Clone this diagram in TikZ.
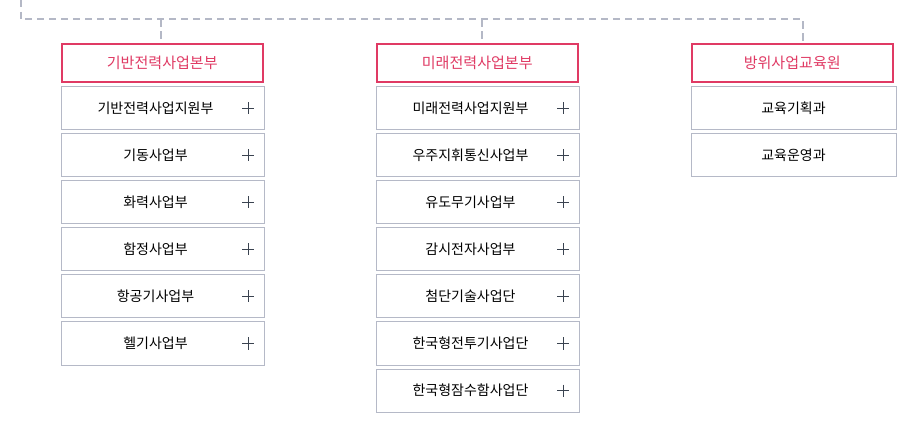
\documentclass[tikz,border=0pt]{standalone}
\usepackage{fontspec}
\newfontfamily\kr{Noto Sans CJK KR}
\definecolor{pinkc}{HTML}{E03A64}
\definecolor{greyc}{HTML}{B5B9C7}
\definecolor{dashc}{HTML}{B4B8C6}
\definecolor{plusc}{HTML}{3A4350}
\begin{document}
\begin{tikzpicture}[x=0.75pt,y=-0.75pt,
  head/.style={draw=pinkc,line width=1.5pt,minimum width=202.5*0.75pt-1.5pt,minimum height=40*0.75pt-1.5pt,inner sep=0pt,font=\kr\fontsize{11.3pt}{13pt}\selectfont,text=pinkc,anchor=north west},
  item/.style={draw=greyc,line width=0.75pt,minimum width=203*0.75pt,minimum height=43*0.75pt,inner sep=0pt,anchor=north west},
  itemtext/.style={font=\kr\fontsize{10.5pt}{12pt}\selectfont,text=black},
  plus/.style={draw=plusc,line width=0.75pt},
  dashline/.style={draw=dashc,line width=1.5pt,dash pattern=on 5.5pt off 3.5pt}]
\useasboundingbox[fill=white] (0,0) rectangle (912,423);
% dashed connectors
\coordinate (c0) at (20.5,0);
\coordinate (c1) at (20.5,19.5);
\coordinate (c2) at (803,19.5);
\coordinate (d1) at (161,19.5);
\coordinate (d2) at (482,19.5);
\node[head] (h1) at (61,43) {기반전력사업본부};
\node[head] (h2) at (376,43) {미래전력사업본부};
\node[head] (h3) at (691,43) {방위사업교육원};
\draw[dashline] (c0) -- (c1) -- (c2) -- (c2 |- h3.north);
\draw[dashline] (d1) -- (d1 |- h1.north);
\draw[dashline] (d2) -- (d2 |- h2.north);
% column 1
\foreach \t [count=\i from 0] in {기반전력사업지원부,기동사업부,화력사업부,함정사업부,항공기사업부,헬기사업부}{
  \node[item] (a\i) at (60.5,86.5+47*\i) {};
  \node[itemtext] (at\i) at ([xshift=-7*0.75pt]a\i.center) {\t};
  \draw[plus] ([xshift=-22.5*0.75pt]a\i.east) -- ([xshift=-10.5*0.75pt]a\i.east)
              ([xshift=-16.5*0.75pt,yshift=6*0.75pt]a\i.east) -- ([xshift=-16.5*0.75pt,yshift=-6*0.75pt]a\i.east);
}
% column 2
\foreach \t [count=\i from 0] in {미래전력사업지원부,우주지휘통신사업부,유도무기사업부,감시전자사업부,첨단기술사업단,한국형전투기사업단,한국형잠수함사업단}{
  \node[item] (b\i) at (375.5,86.5+47*\i) {};
  \node[itemtext] (bt\i) at ([xshift=-7*0.75pt]b\i.center) {\t};
  \draw[plus] ([xshift=-22.5*0.75pt]b\i.east) -- ([xshift=-10.5*0.75pt]b\i.east)
              ([xshift=-16.5*0.75pt,yshift=6*0.75pt]b\i.east) -- ([xshift=-16.5*0.75pt,yshift=-6*0.75pt]b\i.east);
}
% column 3
\foreach \t [count=\i from 0] in {교육기획과,교육운영과}{
  \node[item,minimum width=205*0.75pt] (c\i) at (690.5,86.5+47*\i) {};
  \node[itemtext] (ct\i) at (c\i.center) {\t};
}
\end{tikzpicture}
\end{document}
